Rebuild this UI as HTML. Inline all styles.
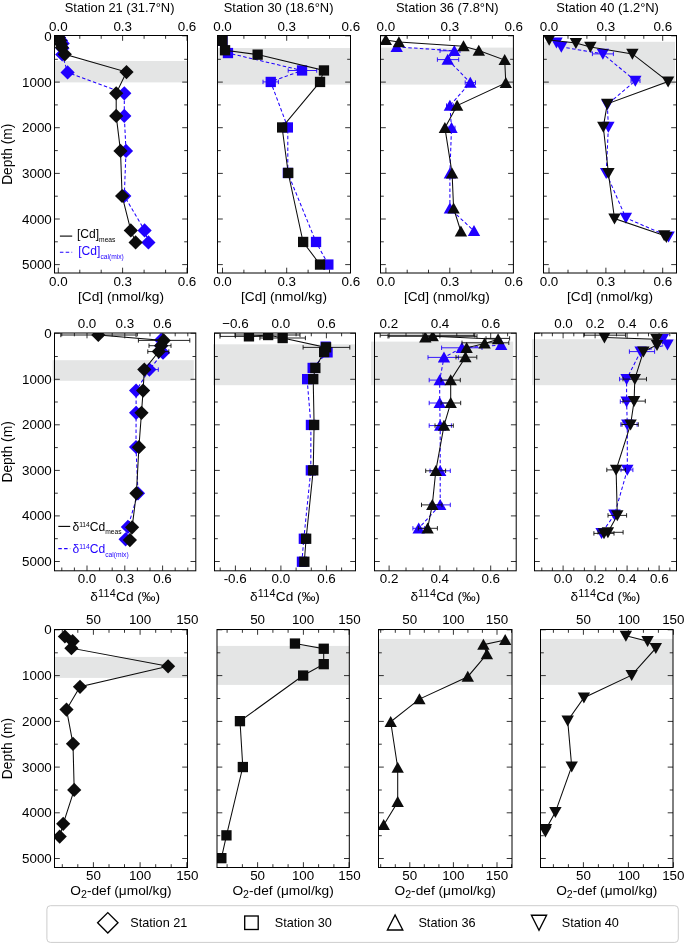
<!DOCTYPE html>
<html><head><meta charset="utf-8"><title>Cd profiles</title>
<style>
html,body{margin:0;padding:0;background:#fff;}
svg{display:block;will-change:transform;}
text{font-family:"Liberation Sans", sans-serif;fill:#000;}
.tk{font-size:13.4px;}
.ax{font-size:13.7px;}
.tt{font-size:12.9px;}
.dp{font-size:13.8px;}
.lg{font-size:12.1px;}
.bl{font-size:12.7px;}
</style></head><body>
<svg width="685" height="944" viewBox="0 0 685 944">
<rect x="0" y="0" width="685" height="944" fill="#fff"/>
<rect x="54.5" y="61.0" width="133.0" height="21.4" fill="#e4e5e5"/>
<clipPath id="c1"><rect x="54.5" y="35.5" width="133.0" height="237.5"/></clipPath>
<g clip-path="url(#c1)">
<path d="M59.0 37.5L61.0 40.5L62.7 43.4L62.4 48.3L62.2 54.5L67.6 72.4L124.3 93.3L124.3 115.9L126.0 150.9L124.3 196.0L144.6 230.4L148.4 242.4" stroke="#2000ff" stroke-width="1.05" fill="none" stroke-dasharray="3.5 2.3"/>
<path d="M51.9 37.5L59.0 30.4L66.1 37.5L59.0 44.6Z" fill="#2000ff"/>
<path d="M53.9 40.5L61.0 33.4L68.1 40.5L61.0 47.6Z" fill="#2000ff"/>
<path d="M55.6 43.4L62.7 36.3L69.8 43.4L62.7 50.5Z" fill="#2000ff"/>
<path d="M55.3 48.3L62.4 41.2L69.5 48.3L62.4 55.4Z" fill="#2000ff"/>
<path d="M55.1 54.5L62.2 47.4L69.3 54.5L62.2 61.6Z" fill="#2000ff"/>
<path d="M60.5 72.4L67.6 65.3L74.7 72.4L67.6 79.5Z" fill="#2000ff"/>
<path d="M117.2 93.3L124.3 86.2L131.4 93.3L124.3 100.4Z" fill="#2000ff"/>
<path d="M117.2 115.9L124.3 108.8L131.4 115.9L124.3 123.0Z" fill="#2000ff"/>
<path d="M118.9 150.9L126.0 143.8L133.1 150.9L126.0 158.0Z" fill="#2000ff"/>
<path d="M117.2 196.0L124.3 188.9L131.4 196.0L124.3 203.1Z" fill="#2000ff"/>
<path d="M137.5 230.4L144.6 223.3L151.7 230.4L144.6 237.5Z" fill="#2000ff"/>
<path d="M141.3 242.4L148.4 235.3L155.5 242.4L148.4 249.5Z" fill="#2000ff"/>
<path d="M58.7 37.4L60.0 40.5L61.0 44.0L61.9 47.6L64.8 54.3L126.5 72.1L116.2 93.3L116.2 115.9L120.5 150.9L122.1 196.0L130.8 230.4L135.6 242.4" stroke="#0c0c0c" stroke-width="1.05" fill="none"/>
<path d="M51.6 37.4L58.7 30.3L65.8 37.4L58.7 44.5Z" fill="#0c0c0c"/>
<path d="M52.9 40.5L60.0 33.4L67.1 40.5L60.0 47.6Z" fill="#0c0c0c"/>
<path d="M53.9 44.0L61.0 36.9L68.1 44.0L61.0 51.1Z" fill="#0c0c0c"/>
<path d="M54.8 47.6L61.9 40.5L69.0 47.6L61.9 54.7Z" fill="#0c0c0c"/>
<path d="M57.7 54.3L64.8 47.2L71.9 54.3L64.8 61.4Z" fill="#0c0c0c"/>
<path d="M119.4 72.1L126.5 65.0L133.6 72.1L126.5 79.2Z" fill="#0c0c0c"/>
<path d="M109.1 93.3L116.2 86.2L123.3 93.3L116.2 100.4Z" fill="#0c0c0c"/>
<path d="M109.1 115.9L116.2 108.8L123.3 115.9L116.2 123.0Z" fill="#0c0c0c"/>
<path d="M113.4 150.9L120.5 143.8L127.6 150.9L120.5 158.0Z" fill="#0c0c0c"/>
<path d="M115.0 196.0L122.1 188.9L129.2 196.0L122.1 203.1Z" fill="#0c0c0c"/>
<path d="M123.7 230.4L130.8 223.3L137.9 230.4L130.8 237.5Z" fill="#0c0c0c"/>
<path d="M128.5 242.4L135.6 235.3L142.7 242.4L135.6 249.5Z" fill="#0c0c0c"/>
</g>
<path d="M54.5 35.8h5.3M187.5 35.8h-5.3M54.5 59.3h3.3M187.5 59.3h-3.3M54.5 82.1h5.3M187.5 82.1h-5.3M54.5 104.9h3.3M187.5 104.9h-3.3M54.5 127.7h5.3M187.5 127.7h-5.3M54.5 150.6h3.3M187.5 150.6h-3.3M54.5 173.4h5.3M187.5 173.4h-5.3M54.5 196.2h3.3M187.5 196.2h-3.3M54.5 219.0h5.3M187.5 219.0h-5.3M54.5 241.8h3.3M187.5 241.8h-3.3M54.5 264.6h5.3M187.5 264.6h-5.3M58.3 35.5v5.3M58.3 273.0v-5.3M79.8 35.5v3.3M79.8 273.0v-3.3M101.2 35.5v3.3M101.2 273.0v-3.3M122.6 35.5v5.3M122.6 273.0v-5.3M144.1 35.5v3.3M144.1 273.0v-3.3M165.6 35.5v3.3M165.6 273.0v-3.3M187.0 35.5v5.3M187.0 273.0v-5.3" stroke="#111" stroke-width="0.85" fill="none"/>
<rect x="54.5" y="35.5" width="133.0" height="237.5" fill="none" stroke="#000" stroke-width="1.0"/>
<text x="58.3" y="30.8" text-anchor="middle" class="tk">0.0</text>
<text x="122.7" y="30.8" text-anchor="middle" class="tk">0.3</text>
<text x="187.0" y="30.8" text-anchor="middle" class="tk">0.6</text>
<text x="58.3" y="286.0" text-anchor="middle" class="tk">0.0</text>
<text x="122.7" y="286.0" text-anchor="middle" class="tk">0.3</text>
<text x="187.0" y="286.0" text-anchor="middle" class="tk">0.6</text>
<text x="51.8" y="41.0" text-anchor="end" class="tk">0</text>
<text x="51.8" y="86.6" text-anchor="end" class="tk">1000</text>
<text x="51.8" y="132.2" text-anchor="end" class="tk">2000</text>
<text x="51.8" y="177.9" text-anchor="end" class="tk">3000</text>
<text x="51.8" y="223.5" text-anchor="end" class="tk">4000</text>
<text x="51.8" y="269.1" text-anchor="end" class="tk">5000</text>
<text transform="translate(12.0 154.2) rotate(-90)" text-anchor="middle" class="dp">Depth (m)</text>
<text x="121.0" y="301.3" text-anchor="middle" class="ax">[Cd] (nmol/kg)</text>
<text x="119.6" y="11.6" text-anchor="middle" class="tt">Station 21 (31.7&#176;N)</text>
<rect x="217.5" y="48.0" width="133.0" height="36.6" fill="#e4e5e5"/>
<clipPath id="c2"><rect x="217.5" y="35.5" width="133.0" height="237.5"/></clipPath>
<g clip-path="url(#c2)">
<path d="M222.5 40.8L228.0 53.0L302.0 70.5L270.7 81.9L287.8 127.5L287.8 173.0L316.0 242.0L328.3 264.5" stroke="#2000ff" stroke-width="1.05" fill="none" stroke-dasharray="3.5 2.3"/>
<path d="M288.2 70.5H316.7M288.2 68.3V72.7M316.7 68.3V72.7" stroke="#2000ff" stroke-width="0.9" fill="none"/>
<path d="M263.0 81.9H278.4M263.0 79.7V84.1M278.4 79.7V84.1" stroke="#2000ff" stroke-width="0.9" fill="none"/>
<rect x="217.3" y="35.6" width="10.3" height="10.3" fill="#2000ff"/>
<rect x="222.8" y="47.9" width="10.3" height="10.3" fill="#2000ff"/>
<rect x="296.9" y="65.3" width="10.3" height="10.3" fill="#2000ff"/>
<rect x="265.6" y="76.8" width="10.3" height="10.3" fill="#2000ff"/>
<rect x="282.7" y="122.3" width="10.3" height="10.3" fill="#2000ff"/>
<rect x="282.7" y="167.8" width="10.3" height="10.3" fill="#2000ff"/>
<rect x="310.9" y="236.8" width="10.3" height="10.3" fill="#2000ff"/>
<rect x="323.2" y="259.4" width="10.3" height="10.3" fill="#2000ff"/>
<path d="M222.5 40.8L225.1 50.2L257.6 54.6L323.9 70.5L320.0 81.9L282.1 127.5L288.2 173.0L303.1 242.0L320.0 264.5" stroke="#0c0c0c" stroke-width="1.05" fill="none"/>
<rect x="217.3" y="35.6" width="10.3" height="10.3" fill="#0c0c0c"/>
<rect x="219.9" y="45.1" width="10.3" height="10.3" fill="#0c0c0c"/>
<rect x="252.5" y="49.5" width="10.3" height="10.3" fill="#0c0c0c"/>
<rect x="318.8" y="65.3" width="10.3" height="10.3" fill="#0c0c0c"/>
<rect x="314.9" y="76.8" width="10.3" height="10.3" fill="#0c0c0c"/>
<rect x="277.0" y="122.3" width="10.3" height="10.3" fill="#0c0c0c"/>
<rect x="283.1" y="167.8" width="10.3" height="10.3" fill="#0c0c0c"/>
<rect x="298.0" y="236.8" width="10.3" height="10.3" fill="#0c0c0c"/>
<rect x="314.9" y="259.4" width="10.3" height="10.3" fill="#0c0c0c"/>
</g>
<path d="M217.5 35.8h5.3M350.5 35.8h-5.3M217.5 59.3h3.3M350.5 59.3h-3.3M217.5 82.1h5.3M350.5 82.1h-5.3M217.5 104.9h3.3M350.5 104.9h-3.3M217.5 127.7h5.3M350.5 127.7h-5.3M217.5 150.6h3.3M350.5 150.6h-3.3M217.5 173.4h5.3M350.5 173.4h-5.3M217.5 196.2h3.3M350.5 196.2h-3.3M217.5 219.0h5.3M350.5 219.0h-5.3M217.5 241.8h3.3M350.5 241.8h-3.3M217.5 264.6h5.3M350.5 264.6h-5.3M222.5 35.5v5.3M222.5 273.0v-5.3M243.9 35.5v3.3M243.9 273.0v-3.3M265.3 35.5v3.3M265.3 273.0v-3.3M286.7 35.5v5.3M286.7 273.0v-5.3M308.1 35.5v3.3M308.1 273.0v-3.3M329.5 35.5v3.3M329.5 273.0v-3.3" stroke="#111" stroke-width="0.85" fill="none"/>
<rect x="217.5" y="35.5" width="133.0" height="237.5" fill="none" stroke="#000" stroke-width="1.0"/>
<text x="222.5" y="30.8" text-anchor="middle" class="tk">0.0</text>
<text x="286.7" y="30.8" text-anchor="middle" class="tk">0.3</text>
<text x="350.9" y="30.8" text-anchor="middle" class="tk">0.6</text>
<text x="222.5" y="286.0" text-anchor="middle" class="tk">0.0</text>
<text x="286.7" y="286.0" text-anchor="middle" class="tk">0.3</text>
<text x="350.9" y="286.0" text-anchor="middle" class="tk">0.6</text>
<text x="284.0" y="301.3" text-anchor="middle" class="ax">[Cd] (nmol/kg)</text>
<text x="278.6" y="11.6" text-anchor="middle" class="tt">Station 30 (18.6&#176;N)</text>
<rect x="380.5" y="47.6" width="132.9" height="37.0" fill="#e4e5e5"/>
<clipPath id="c3"><rect x="380.5" y="35.5" width="132.9" height="237.5"/></clipPath>
<g clip-path="url(#c3)">
<path d="M396.7 46.9L454.3 50.8L447.7 59.6L470.3 82.6L449.9 105.6L451.5 127.9L449.9 173.4L449.9 208.5L474.0 231.0" stroke="#2000ff" stroke-width="1.05" fill="none" stroke-dasharray="3.5 2.3"/>
<path d="M440.0 50.8H460.0M440.0 48.6V53.0M460.0 48.6V53.0" stroke="#2000ff" stroke-width="0.9" fill="none"/>
<path d="M437.4 59.6H458.7M437.4 57.4V61.8M458.7 57.4V61.8" stroke="#2000ff" stroke-width="0.9" fill="none"/>
<path d="M465.2 82.6H475.5M465.2 80.4V84.8M475.5 80.4V84.8" stroke="#2000ff" stroke-width="0.9" fill="none"/>
<path d="M446.5 105.6H453.5M446.5 103.4V107.8M453.5 103.4V107.8" stroke="#2000ff" stroke-width="0.9" fill="none"/>
<path d="M448.0 127.9H455.0M448.0 125.7V130.1M455.0 125.7V130.1" stroke="#2000ff" stroke-width="0.9" fill="none"/>
<path d="M390.5 52.0L396.7 41.0L402.9 52.0Z" fill="#2000ff"/>
<path d="M448.1 55.9L454.3 44.9L460.5 55.9Z" fill="#2000ff"/>
<path d="M441.5 64.7L447.7 53.7L453.9 64.7Z" fill="#2000ff"/>
<path d="M464.1 87.7L470.3 76.7L476.5 87.7Z" fill="#2000ff"/>
<path d="M443.7 110.7L449.9 99.7L456.1 110.7Z" fill="#2000ff"/>
<path d="M445.3 133.0L451.5 122.0L457.7 133.0Z" fill="#2000ff"/>
<path d="M443.7 178.5L449.9 167.5L456.1 178.5Z" fill="#2000ff"/>
<path d="M443.7 213.6L449.9 202.6L456.1 213.6Z" fill="#2000ff"/>
<path d="M467.8 236.1L474.0 225.1L480.2 236.1Z" fill="#2000ff"/>
<path d="M385.8 39.9L398.9 42.1L463.5 46.2L478.8 50.6L504.7 60.0L505.8 83.0L457.1 105.6L444.9 127.9L452.1 173.4L453.6 208.5L460.9 231.5" stroke="#0c0c0c" stroke-width="1.05" fill="none"/>
<path d="M379.6 45.0L385.8 34.0L392.0 45.0Z" fill="#0c0c0c"/>
<path d="M392.7 47.2L398.9 36.2L405.1 47.2Z" fill="#0c0c0c"/>
<path d="M457.3 51.3L463.5 40.3L469.7 51.3Z" fill="#0c0c0c"/>
<path d="M472.6 55.7L478.8 44.7L485.0 55.7Z" fill="#0c0c0c"/>
<path d="M498.5 65.1L504.7 54.1L510.9 65.1Z" fill="#0c0c0c"/>
<path d="M499.6 88.1L505.8 77.1L512.0 88.1Z" fill="#0c0c0c"/>
<path d="M450.9 110.7L457.1 99.7L463.3 110.7Z" fill="#0c0c0c"/>
<path d="M438.7 133.0L444.9 122.0L451.1 133.0Z" fill="#0c0c0c"/>
<path d="M445.9 178.5L452.1 167.5L458.3 178.5Z" fill="#0c0c0c"/>
<path d="M447.4 213.6L453.6 202.6L459.8 213.6Z" fill="#0c0c0c"/>
<path d="M454.7 236.6L460.9 225.6L467.1 236.6Z" fill="#0c0c0c"/>
</g>
<path d="M380.5 35.8h5.3M513.4 35.8h-5.3M380.5 59.3h3.3M513.4 59.3h-3.3M380.5 82.1h5.3M513.4 82.1h-5.3M380.5 104.9h3.3M513.4 104.9h-3.3M380.5 127.7h5.3M513.4 127.7h-5.3M380.5 150.6h3.3M513.4 150.6h-3.3M380.5 173.4h5.3M513.4 173.4h-5.3M380.5 196.2h3.3M513.4 196.2h-3.3M380.5 219.0h5.3M513.4 219.0h-5.3M380.5 241.8h3.3M513.4 241.8h-3.3M380.5 264.6h5.3M513.4 264.6h-5.3M385.9 35.5v5.3M385.9 273.0v-5.3M407.2 35.5v3.3M407.2 273.0v-3.3M428.5 35.5v3.3M428.5 273.0v-3.3M449.8 35.5v5.3M449.8 273.0v-5.3M471.1 35.5v3.3M471.1 273.0v-3.3M492.4 35.5v3.3M492.4 273.0v-3.3" stroke="#111" stroke-width="0.85" fill="none"/>
<rect x="380.5" y="35.5" width="132.9" height="237.5" fill="none" stroke="#000" stroke-width="1.0"/>
<text x="385.9" y="30.8" text-anchor="middle" class="tk">0.0</text>
<text x="449.9" y="30.8" text-anchor="middle" class="tk">0.3</text>
<text x="513.7" y="30.8" text-anchor="middle" class="tk">0.6</text>
<text x="385.9" y="286.0" text-anchor="middle" class="tk">0.0</text>
<text x="449.9" y="286.0" text-anchor="middle" class="tk">0.3</text>
<text x="513.7" y="286.0" text-anchor="middle" class="tk">0.6</text>
<text x="446.9" y="301.3" text-anchor="middle" class="ax">[Cd] (nmol/kg)</text>
<text x="447.3" y="11.6" text-anchor="middle" class="tt">Station 36 (7.8&#176;N)</text>
<rect x="543.5" y="41.8" width="131.5" height="42.8" fill="#e4e5e5"/>
<clipPath id="c4"><rect x="543.5" y="35.5" width="133.0" height="237.5"/></clipPath>
<g clip-path="url(#c4)">
<path d="M556.5 42.5L561.3 46.9L602.9 53.9L635.3 80.8L607.3 104.5L608.4 126.8L606.2 173.0L625.9 217.9L668.6 236.5" stroke="#2000ff" stroke-width="1.05" fill="none" stroke-dasharray="3.5 2.3"/>
<path d="M592.4 53.9H613.4M592.4 51.7V56.1M613.4 51.7V56.1" stroke="#2000ff" stroke-width="0.9" fill="none"/>
<path d="M631.0 80.8H640.0M631.0 78.6V83.0M640.0 78.6V83.0" stroke="#2000ff" stroke-width="0.9" fill="none"/>
<path d="M550.3 37.4L556.5 48.4L562.7 37.4Z" fill="#2000ff"/>
<path d="M555.1 41.8L561.3 52.8L567.5 41.8Z" fill="#2000ff"/>
<path d="M596.7 48.8L602.9 59.8L609.1 48.8Z" fill="#2000ff"/>
<path d="M629.1 75.7L635.3 86.7L641.5 75.7Z" fill="#2000ff"/>
<path d="M601.1 99.4L607.3 110.4L613.5 99.4Z" fill="#2000ff"/>
<path d="M602.2 121.7L608.4 132.7L614.6 121.7Z" fill="#2000ff"/>
<path d="M600.0 167.9L606.2 178.9L612.4 167.9Z" fill="#2000ff"/>
<path d="M619.7 212.8L625.9 223.8L632.1 212.8Z" fill="#2000ff"/>
<path d="M662.4 231.4L668.6 242.4L674.8 231.4Z" fill="#2000ff"/>
<path d="M549.2 39.9L575.9 43.0L590.4 46.9L632.4 53.9L668.1 81.5L607.3 103.8L603.3 126.8L608.4 173.0L614.5 218.5L664.2 235.4L666.4 237.0" stroke="#0c0c0c" stroke-width="1.05" fill="none"/>
<path d="M543.0 34.8L549.2 45.8L555.4 34.8Z" fill="#0c0c0c"/>
<path d="M569.7 37.9L575.9 48.9L582.1 37.9Z" fill="#0c0c0c"/>
<path d="M584.2 41.8L590.4 52.8L596.6 41.8Z" fill="#0c0c0c"/>
<path d="M626.2 48.8L632.4 59.8L638.6 48.8Z" fill="#0c0c0c"/>
<path d="M661.9 76.4L668.1 87.4L674.3 76.4Z" fill="#0c0c0c"/>
<path d="M601.1 98.7L607.3 109.7L613.5 98.7Z" fill="#0c0c0c"/>
<path d="M597.1 121.7L603.3 132.7L609.5 121.7Z" fill="#0c0c0c"/>
<path d="M602.2 167.9L608.4 178.9L614.6 167.9Z" fill="#0c0c0c"/>
<path d="M608.3 213.4L614.5 224.4L620.7 213.4Z" fill="#0c0c0c"/>
<path d="M658.0 230.3L664.2 241.3L670.4 230.3Z" fill="#0c0c0c"/>
<path d="M660.2 231.9L666.4 242.9L672.6 231.9Z" fill="#0c0c0c"/>
</g>
<path d="M543.5 35.8h5.3M676.5 35.8h-5.3M543.5 59.3h3.3M676.5 59.3h-3.3M543.5 82.1h5.3M676.5 82.1h-5.3M543.5 104.9h3.3M676.5 104.9h-3.3M543.5 127.7h5.3M676.5 127.7h-5.3M543.5 150.6h3.3M676.5 150.6h-3.3M543.5 173.4h5.3M676.5 173.4h-5.3M543.5 196.2h3.3M676.5 196.2h-3.3M543.5 219.0h5.3M676.5 219.0h-5.3M543.5 241.8h3.3M676.5 241.8h-3.3M543.5 264.6h5.3M676.5 264.6h-5.3M549.0 35.5v5.3M549.0 273.0v-5.3M568.0 35.5v3.3M568.0 273.0v-3.3M586.9 35.5v3.3M586.9 273.0v-3.3M605.9 35.5v5.3M605.9 273.0v-5.3M624.8 35.5v3.3M624.8 273.0v-3.3M643.8 35.5v3.3M643.8 273.0v-3.3M662.7 35.5v5.3M662.7 273.0v-5.3" stroke="#111" stroke-width="0.85" fill="none"/>
<rect x="543.5" y="35.5" width="133.0" height="237.5" fill="none" stroke="#000" stroke-width="1.0"/>
<text x="549.0" y="30.8" text-anchor="middle" class="tk">0.0</text>
<text x="605.9" y="30.8" text-anchor="middle" class="tk">0.3</text>
<text x="662.8" y="30.8" text-anchor="middle" class="tk">0.6</text>
<text x="549.0" y="286.0" text-anchor="middle" class="tk">0.0</text>
<text x="605.9" y="286.0" text-anchor="middle" class="tk">0.3</text>
<text x="662.8" y="286.0" text-anchor="middle" class="tk">0.6</text>
<text x="610.0" y="301.3" text-anchor="middle" class="ax">[Cd] (nmol/kg)</text>
<text x="607.6" y="11.6" text-anchor="middle" class="tt">Station 40 (1.2&#176;N)</text>
<rect x="52.6" y="360.2" width="141.2" height="20.6" fill="#e4e5e5"/>
<clipPath id="c5"><rect x="54.5" y="333.0" width="141.3" height="237.8"/></clipPath>
<g clip-path="url(#c5)">
<path d="M161.1 339.9L161.1 345.7L163.0 352.7L149.4 369.6L136.1 390.6L136.1 412.8L136.0 447.0L138.0 493.3L127.9 526.9L125.6 539.3" stroke="#2000ff" stroke-width="1.05" fill="none" stroke-dasharray="3.5 2.3"/>
<path d="M140.0 369.6H158.3M140.0 367.4V371.8M158.3 367.4V371.8" stroke="#2000ff" stroke-width="0.9" fill="none"/>
<path d="M154.0 339.9L161.1 332.8L168.2 339.9L161.1 347.0Z" fill="#2000ff"/>
<path d="M154.0 345.7L161.1 338.6L168.2 345.7L161.1 352.8Z" fill="#2000ff"/>
<path d="M155.9 352.7L163.0 345.6L170.1 352.7L163.0 359.8Z" fill="#2000ff"/>
<path d="M142.3 369.6L149.4 362.5L156.5 369.6L149.4 376.7Z" fill="#2000ff"/>
<path d="M129.0 390.6L136.1 383.5L143.2 390.6L136.1 397.7Z" fill="#2000ff"/>
<path d="M129.0 412.8L136.1 405.7L143.2 412.8L136.1 419.9Z" fill="#2000ff"/>
<path d="M128.9 447.0L136.0 439.9L143.1 447.0L136.0 454.1Z" fill="#2000ff"/>
<path d="M130.9 493.3L138.0 486.2L145.1 493.3L138.0 500.4Z" fill="#2000ff"/>
<path d="M120.8 526.9L127.9 519.8L135.0 526.9L127.9 534.0Z" fill="#2000ff"/>
<path d="M118.5 539.3L125.6 532.2L132.7 539.3L125.6 546.4Z" fill="#2000ff"/>
<path d="M98.3 335.0L163.7 340.4L161.1 345.7L158.8 351.6L144.3 369.6L143.1 390.6L141.5 412.8L138.9 447.2L136.4 493.3L132.1 527.3L129.9 540.1" stroke="#0c0c0c" stroke-width="1.05" fill="none"/>
<path d="M60.8 335.0H136.1M60.8 332.8V337.2M136.1 332.8V337.2" stroke="#0c0c0c" stroke-width="0.9" fill="none"/>
<path d="M138.4 340.4H189.8M138.4 338.2V342.6M189.8 338.2V342.6" stroke="#0c0c0c" stroke-width="0.9" fill="none"/>
<path d="M149.0 345.7H171.0M149.0 343.5V347.9M171.0 343.5V347.9" stroke="#0c0c0c" stroke-width="0.9" fill="none"/>
<path d="M147.8 351.6H168.8M147.8 349.4V353.8M168.8 349.4V353.8" stroke="#0c0c0c" stroke-width="0.9" fill="none"/>
<path d="M91.2 335.0L98.3 327.9L105.4 335.0L98.3 342.1Z" fill="#0c0c0c"/>
<path d="M156.6 340.4L163.7 333.3L170.8 340.4L163.7 347.5Z" fill="#0c0c0c"/>
<path d="M154.0 345.7L161.1 338.6L168.2 345.7L161.1 352.8Z" fill="#0c0c0c"/>
<path d="M151.7 351.6L158.8 344.5L165.9 351.6L158.8 358.7Z" fill="#0c0c0c"/>
<path d="M137.2 369.6L144.3 362.5L151.4 369.6L144.3 376.7Z" fill="#0c0c0c"/>
<path d="M136.0 390.6L143.1 383.5L150.2 390.6L143.1 397.7Z" fill="#0c0c0c"/>
<path d="M134.4 412.8L141.5 405.7L148.6 412.8L141.5 419.9Z" fill="#0c0c0c"/>
<path d="M131.8 447.2L138.9 440.1L146.0 447.2L138.9 454.3Z" fill="#0c0c0c"/>
<path d="M129.3 493.3L136.4 486.2L143.5 493.3L136.4 500.4Z" fill="#0c0c0c"/>
<path d="M125.0 527.3L132.1 520.2L139.2 527.3L132.1 534.4Z" fill="#0c0c0c"/>
<path d="M122.8 540.1L129.9 533.0L137.0 540.1L129.9 547.2Z" fill="#0c0c0c"/>
</g>
<path d="M54.5 333.3h5.3M195.8 333.3h-5.3M54.5 356.5h3.3M195.8 356.5h-3.3M54.5 379.3h5.3M195.8 379.3h-5.3M54.5 402.0h3.3M195.8 402.0h-3.3M54.5 424.8h5.3M195.8 424.8h-5.3M54.5 447.6h3.3M195.8 447.6h-3.3M54.5 470.4h5.3M195.8 470.4h-5.3M54.5 493.2h3.3M195.8 493.2h-3.3M54.5 515.9h5.3M195.8 515.9h-5.3M54.5 538.7h3.3M195.8 538.7h-3.3M54.5 561.5h5.3M195.8 561.5h-5.3M61.8 333.0v3.3M61.8 570.8v-3.3M74.4 333.0v3.3M74.4 570.8v-3.3M87.0 333.0v5.3M87.0 570.8v-5.3M99.6 333.0v3.3M99.6 570.8v-3.3M112.2 333.0v3.3M112.2 570.8v-3.3M124.8 333.0v5.3M124.8 570.8v-5.3M137.4 333.0v3.3M137.4 570.8v-3.3M150.0 333.0v3.3M150.0 570.8v-3.3M162.6 333.0v5.3M162.6 570.8v-5.3M175.2 333.0v3.3M175.2 570.8v-3.3M187.8 333.0v3.3M187.8 570.8v-3.3" stroke="#111" stroke-width="0.85" fill="none"/>
<rect x="54.5" y="333.0" width="141.3" height="237.8" fill="none" stroke="#000" stroke-width="1.0"/>
<text x="87.0" y="327.6" text-anchor="middle" class="tk">0.0</text>
<text x="124.9" y="327.6" text-anchor="middle" class="tk">0.3</text>
<text x="162.5" y="327.6" text-anchor="middle" class="tk">0.6</text>
<text x="87.0" y="583.2" text-anchor="middle" class="tk">0.0</text>
<text x="124.9" y="583.2" text-anchor="middle" class="tk">0.3</text>
<text x="162.5" y="583.2" text-anchor="middle" class="tk">0.6</text>
<text x="51.8" y="338.2" text-anchor="end" class="tk">0</text>
<text x="51.8" y="383.8" text-anchor="end" class="tk">1000</text>
<text x="51.8" y="429.3" text-anchor="end" class="tk">2000</text>
<text x="51.8" y="474.9" text-anchor="end" class="tk">3000</text>
<text x="51.8" y="520.4" text-anchor="end" class="tk">4000</text>
<text x="51.8" y="566.0" text-anchor="end" class="tk">5000</text>
<text transform="translate(12.0 451.9) rotate(-90)" text-anchor="middle" class="dp">Depth (m)</text>
<text x="125.2" y="601.2" text-anchor="middle" class="ax">&#948;<tspan dy="-4.2" font-size="10.8" letter-spacing="0.3">114</tspan><tspan dy="4.2">Cd (&#8240;)</tspan></text>
<rect x="213.0" y="344.3" width="142.5" height="40.9" fill="#e4e5e5"/>
<clipPath id="c6"><rect x="214.5" y="333.0" width="141.0" height="237.8"/></clipPath>
<g clip-path="url(#c6)">
<path d="M325.6 346.6L327.5 352.4L312.6 367.9L307.1 379.1L310.9 424.9L310.8 470.4L303.8 538.8L301.9 561.7" stroke="#2000ff" stroke-width="1.05" fill="none" stroke-dasharray="3.5 2.3"/>
<rect x="320.5" y="341.5" width="10.3" height="10.3" fill="#2000ff"/>
<rect x="322.4" y="347.2" width="10.3" height="10.3" fill="#2000ff"/>
<rect x="307.5" y="362.8" width="10.3" height="10.3" fill="#2000ff"/>
<rect x="302.0" y="374.0" width="10.3" height="10.3" fill="#2000ff"/>
<rect x="305.8" y="419.8" width="10.3" height="10.3" fill="#2000ff"/>
<rect x="305.7" y="465.2" width="10.3" height="10.3" fill="#2000ff"/>
<rect x="298.7" y="533.6" width="10.3" height="10.3" fill="#2000ff"/>
<rect x="296.8" y="556.6" width="10.3" height="10.3" fill="#2000ff"/>
<path d="M248.9 336.4L268.1 335.0L282.6 338.0L326.0 347.4L324.1 352.0L315.3 367.9L313.2 379.1L314.1 424.9L313.2 470.4L306.1 538.8L304.3 561.7" stroke="#0c0c0c" stroke-width="1.05" fill="none"/>
<path d="M220.0 336.4H270.0M220.0 334.2V338.6M270.0 334.2V338.6" stroke="#0c0c0c" stroke-width="0.9" fill="none"/>
<path d="M235.0 335.0H300.0M235.0 332.8V337.2M300.0 332.8V337.2" stroke="#0c0c0c" stroke-width="0.9" fill="none"/>
<path d="M259.9 338.0H305.4M259.9 335.8V340.2M305.4 335.8V340.2" stroke="#0c0c0c" stroke-width="0.9" fill="none"/>
<path d="M303.1 347.4H349.8M303.1 345.2V349.6M349.8 345.2V349.6" stroke="#0c0c0c" stroke-width="0.9" fill="none"/>
<rect x="243.8" y="331.2" width="10.3" height="10.3" fill="#0c0c0c"/>
<rect x="263.0" y="329.9" width="10.3" height="10.3" fill="#0c0c0c"/>
<rect x="277.5" y="332.9" width="10.3" height="10.3" fill="#0c0c0c"/>
<rect x="320.9" y="342.2" width="10.3" height="10.3" fill="#0c0c0c"/>
<rect x="319.0" y="346.9" width="10.3" height="10.3" fill="#0c0c0c"/>
<rect x="310.2" y="362.8" width="10.3" height="10.3" fill="#0c0c0c"/>
<rect x="308.1" y="374.0" width="10.3" height="10.3" fill="#0c0c0c"/>
<rect x="309.0" y="419.8" width="10.3" height="10.3" fill="#0c0c0c"/>
<rect x="308.1" y="465.2" width="10.3" height="10.3" fill="#0c0c0c"/>
<rect x="301.0" y="533.6" width="10.3" height="10.3" fill="#0c0c0c"/>
<rect x="299.2" y="556.6" width="10.3" height="10.3" fill="#0c0c0c"/>
</g>
<path d="M214.5 333.3h5.3M355.5 333.3h-5.3M214.5 356.5h3.3M355.5 356.5h-3.3M214.5 379.3h5.3M355.5 379.3h-5.3M214.5 402.0h3.3M355.5 402.0h-3.3M214.5 424.8h5.3M355.5 424.8h-5.3M214.5 447.6h3.3M355.5 447.6h-3.3M214.5 470.4h5.3M355.5 470.4h-5.3M214.5 493.2h3.3M355.5 493.2h-3.3M214.5 515.9h5.3M355.5 515.9h-5.3M214.5 538.7h3.3M355.5 538.7h-3.3M214.5 561.5h5.3M355.5 561.5h-5.3M220.2 333.0v3.3M220.2 570.8v-3.3M235.4 333.0v5.3M235.4 570.8v-5.3M250.5 333.0v3.3M250.5 570.8v-3.3M265.7 333.0v3.3M265.7 570.8v-3.3M280.9 333.0v5.3M280.9 570.8v-5.3M296.1 333.0v3.3M296.1 570.8v-3.3M311.3 333.0v3.3M311.3 570.8v-3.3M326.4 333.0v5.3M326.4 570.8v-5.3M341.6 333.0v3.3M341.6 570.8v-3.3" stroke="#111" stroke-width="0.85" fill="none"/>
<rect x="214.5" y="333.0" width="141.0" height="237.8" fill="none" stroke="#000" stroke-width="1.0"/>
<text x="235.4" y="327.6" text-anchor="middle" class="tk">&#8722;0.6</text>
<text x="280.9" y="327.6" text-anchor="middle" class="tk">0.0</text>
<text x="326.5" y="327.6" text-anchor="middle" class="tk">0.6</text>
<text x="235.2" y="583.2" text-anchor="middle" class="tk">-0.6</text>
<text x="280.9" y="583.2" text-anchor="middle" class="tk">0.0</text>
<text x="326.5" y="583.2" text-anchor="middle" class="tk">0.6</text>
<text x="285.0" y="601.2" text-anchor="middle" class="ax">&#948;<tspan dy="-4.2" font-size="10.8" letter-spacing="0.3">114</tspan><tspan dy="4.2">Cd (&#8240;)</tspan></text>
<rect x="371.0" y="341.6" width="142.2" height="43.6" fill="#e4e5e5"/>
<clipPath id="c7"><rect x="374.5" y="333.0" width="141.7" height="237.8"/></clipPath>
<g clip-path="url(#c7)">
<path d="M501.2 345.0L461.9 347.8L444.0 357.4L439.7 380.1L439.7 403.0L440.2 425.6L440.2 470.8L440.2 504.9L418.7 528.3" stroke="#2000ff" stroke-width="1.05" fill="none" stroke-dasharray="3.5 2.3"/>
<path d="M441.6 347.8H482.0M441.6 345.6V350.0M482.0 345.6V350.0" stroke="#2000ff" stroke-width="0.9" fill="none"/>
<path d="M428.0 357.4H458.4M428.0 355.2V359.6M458.4 355.2V359.6" stroke="#2000ff" stroke-width="0.9" fill="none"/>
<path d="M429.2 380.1H450.3M429.2 377.9V382.3M450.3 377.9V382.3" stroke="#2000ff" stroke-width="0.9" fill="none"/>
<path d="M429.2 403.0H450.3M429.2 400.8V405.2M450.3 400.8V405.2" stroke="#2000ff" stroke-width="0.9" fill="none"/>
<path d="M429.2 425.6H451.4M429.2 423.4V427.8M451.4 423.4V427.8" stroke="#2000ff" stroke-width="0.9" fill="none"/>
<path d="M430.0 470.8H450.3M430.0 468.6V473.0M450.3 468.6V473.0" stroke="#2000ff" stroke-width="0.9" fill="none"/>
<path d="M430.0 504.9H450.3M430.0 502.7V507.1M450.3 502.7V507.1" stroke="#2000ff" stroke-width="0.9" fill="none"/>
<path d="M412.9 528.3H424.6M412.9 526.1V530.5M424.6 526.1V530.5" stroke="#2000ff" stroke-width="0.9" fill="none"/>
<path d="M495.0 350.1L501.2 339.1L507.4 350.1Z" fill="#2000ff"/>
<path d="M455.7 352.9L461.9 341.9L468.1 352.9Z" fill="#2000ff"/>
<path d="M437.8 362.5L444.0 351.5L450.2 362.5Z" fill="#2000ff"/>
<path d="M433.5 385.2L439.7 374.2L445.9 385.2Z" fill="#2000ff"/>
<path d="M433.5 408.1L439.7 397.1L445.9 408.1Z" fill="#2000ff"/>
<path d="M434.0 430.7L440.2 419.7L446.4 430.7Z" fill="#2000ff"/>
<path d="M434.0 475.9L440.2 464.9L446.4 475.9Z" fill="#2000ff"/>
<path d="M434.0 510.0L440.2 499.0L446.4 510.0Z" fill="#2000ff"/>
<path d="M412.5 533.4L418.7 522.4L424.9 533.4Z" fill="#2000ff"/>
<path d="M425.3 337.3L432.7 336.2L498.1 339.2L484.6 343.4L466.6 347.8L465.4 357.2L450.7 380.1L450.7 403.0L444.0 425.6L435.8 470.8L432.3 504.9L427.6 528.3" stroke="#0c0c0c" stroke-width="1.05" fill="none"/>
<path d="M380.2 335.3H474.8M380.2 333.1V337.5M474.8 333.1V337.5" stroke="#0c0c0c" stroke-width="0.9" fill="none"/>
<path d="M388.0 336.3H477.0M388.0 334.1V338.5M477.0 334.1V338.5" stroke="#0c0c0c" stroke-width="0.9" fill="none"/>
<path d="M486.0 338.4H509.6M486.0 336.2V340.6M509.6 336.2V340.6" stroke="#0c0c0c" stroke-width="0.9" fill="none"/>
<path d="M462.0 342.8H508.8M462.0 340.6V345.0M508.8 340.6V345.0" stroke="#0c0c0c" stroke-width="0.9" fill="none"/>
<path d="M456.0 357.2H476.8M456.0 355.0V359.4M476.8 355.0V359.4" stroke="#0c0c0c" stroke-width="0.9" fill="none"/>
<path d="M441.0 380.1H460.3M441.0 377.9V382.3M460.3 377.9V382.3" stroke="#0c0c0c" stroke-width="0.9" fill="none"/>
<path d="M441.0 403.0H460.7M441.0 400.8V405.2M460.7 400.8V405.2" stroke="#0c0c0c" stroke-width="0.9" fill="none"/>
<path d="M435.0 425.6H453.3M435.0 423.4V427.8M453.3 423.4V427.8" stroke="#0c0c0c" stroke-width="0.9" fill="none"/>
<path d="M425.7 470.8H445.6M425.7 468.6V473.0M445.6 468.6V473.0" stroke="#0c0c0c" stroke-width="0.9" fill="none"/>
<path d="M421.5 504.9H442.0M421.5 502.7V507.1M442.0 502.7V507.1" stroke="#0c0c0c" stroke-width="0.9" fill="none"/>
<path d="M418.3 528.3H437.4M418.3 526.1V530.5M437.4 526.1V530.5" stroke="#0c0c0c" stroke-width="0.9" fill="none"/>
<path d="M419.1 342.4L425.3 331.4L431.5 342.4Z" fill="#0c0c0c"/>
<path d="M426.5 341.3L432.7 330.3L438.9 341.3Z" fill="#0c0c0c"/>
<path d="M491.9 344.3L498.1 333.3L504.3 344.3Z" fill="#0c0c0c"/>
<path d="M478.4 348.5L484.6 337.5L490.8 348.5Z" fill="#0c0c0c"/>
<path d="M460.4 352.9L466.6 341.9L472.8 352.9Z" fill="#0c0c0c"/>
<path d="M459.2 362.3L465.4 351.3L471.6 362.3Z" fill="#0c0c0c"/>
<path d="M444.5 385.2L450.7 374.2L456.9 385.2Z" fill="#0c0c0c"/>
<path d="M444.5 408.1L450.7 397.1L456.9 408.1Z" fill="#0c0c0c"/>
<path d="M437.8 430.7L444.0 419.7L450.2 430.7Z" fill="#0c0c0c"/>
<path d="M429.6 475.9L435.8 464.9L442.0 475.9Z" fill="#0c0c0c"/>
<path d="M426.1 510.0L432.3 499.0L438.5 510.0Z" fill="#0c0c0c"/>
<path d="M421.4 533.4L427.6 522.4L433.8 533.4Z" fill="#0c0c0c"/>
</g>
<path d="M374.5 333.3h5.3M516.2 333.3h-5.3M374.5 356.5h3.3M516.2 356.5h-3.3M374.5 379.3h5.3M516.2 379.3h-5.3M374.5 402.0h3.3M516.2 402.0h-3.3M374.5 424.8h5.3M516.2 424.8h-5.3M374.5 447.6h3.3M516.2 447.6h-3.3M374.5 470.4h5.3M516.2 470.4h-5.3M374.5 493.2h3.3M516.2 493.2h-3.3M374.5 515.9h5.3M516.2 515.9h-5.3M374.5 538.7h3.3M516.2 538.7h-3.3M374.5 561.5h5.3M516.2 561.5h-5.3M389.1 333.0v5.3M389.1 570.8v-5.3M406.0 333.0v3.3M406.0 570.8v-3.3M423.0 333.0v3.3M423.0 570.8v-3.3M439.9 333.0v5.3M439.9 570.8v-5.3M456.8 333.0v3.3M456.8 570.8v-3.3M473.8 333.0v3.3M473.8 570.8v-3.3M490.7 333.0v5.3M490.7 570.8v-5.3M507.6 333.0v3.3M507.6 570.8v-3.3" stroke="#111" stroke-width="0.85" fill="none"/>
<rect x="374.5" y="333.0" width="141.7" height="237.8" fill="none" stroke="#000" stroke-width="1.0"/>
<text x="388.9" y="327.6" text-anchor="middle" class="tk">0.2</text>
<text x="440.0" y="327.6" text-anchor="middle" class="tk">0.4</text>
<text x="490.9" y="327.6" text-anchor="middle" class="tk">0.6</text>
<text x="389.1" y="583.2" text-anchor="middle" class="tk">0.2</text>
<text x="439.7" y="583.2" text-anchor="middle" class="tk">0.4</text>
<text x="490.7" y="583.2" text-anchor="middle" class="tk">0.6</text>
<text x="445.4" y="601.2" text-anchor="middle" class="ax">&#948;<tspan dy="-4.2" font-size="10.8" letter-spacing="0.3">114</tspan><tspan dy="4.2">Cd (&#8240;)</tspan></text>
<rect x="532.0" y="339.2" width="144.5" height="46.0" fill="#e4e5e5"/>
<clipPath id="c8"><rect x="534.5" y="333.0" width="142.0" height="237.8"/></clipPath>
<g clip-path="url(#c8)">
<path d="M662.8 339.2L667.5 344.6L640.6 351.6L626.6 379.1L626.6 401.6L627.3 424.5L627.3 469.9L614.5 514.7L601.6 533.0" stroke="#2000ff" stroke-width="1.05" fill="none" stroke-dasharray="3.5 2.3"/>
<path d="M629.4 351.6H654.6M629.4 349.4V353.8M654.6 349.4V353.8" stroke="#2000ff" stroke-width="0.9" fill="none"/>
<path d="M619.6 379.1H633.6M619.6 376.9V381.3M633.6 376.9V381.3" stroke="#2000ff" stroke-width="0.9" fill="none"/>
<path d="M620.3 401.6H633.0M620.3 399.4V403.8M633.0 399.4V403.8" stroke="#2000ff" stroke-width="0.9" fill="none"/>
<path d="M620.8 424.5H637.1M620.8 422.3V426.7M637.1 422.3V426.7" stroke="#2000ff" stroke-width="0.9" fill="none"/>
<path d="M621.0 469.9H632.9M621.0 467.7V472.1M632.9 467.7V472.1" stroke="#2000ff" stroke-width="0.9" fill="none"/>
<path d="M656.6 334.1L662.8 345.1L669.0 334.1Z" fill="#2000ff"/>
<path d="M661.3 339.5L667.5 350.5L673.7 339.5Z" fill="#2000ff"/>
<path d="M634.4 346.5L640.6 357.5L646.8 346.5Z" fill="#2000ff"/>
<path d="M620.4 374.0L626.6 385.0L632.8 374.0Z" fill="#2000ff"/>
<path d="M620.4 396.5L626.6 407.5L632.8 396.5Z" fill="#2000ff"/>
<path d="M621.1 419.4L627.3 430.4L633.5 419.4Z" fill="#2000ff"/>
<path d="M621.1 464.8L627.3 475.8L633.5 464.8Z" fill="#2000ff"/>
<path d="M608.3 509.6L614.5 520.6L620.7 509.6Z" fill="#2000ff"/>
<path d="M595.4 527.9L601.6 538.9L607.8 527.9Z" fill="#2000ff"/>
<path d="M604.4 337.6L656.5 339.2L657.0 345.0L643.4 351.6L634.8 379.1L634.1 401.1L630.6 424.5L616.1 469.9L617.3 515.4L607.9 532.3L604.0 533.4" stroke="#0c0c0c" stroke-width="1.05" fill="none"/>
<path d="M583.8 335.2H625.6M583.8 333.0V337.4M625.6 333.0V337.4" stroke="#0c0c0c" stroke-width="0.9" fill="none"/>
<path d="M623.0 379.1H646.5M623.0 376.9V381.3M646.5 376.9V381.3" stroke="#0c0c0c" stroke-width="0.9" fill="none"/>
<path d="M623.0 401.1H645.3M623.0 398.9V403.3M645.3 398.9V403.3" stroke="#0c0c0c" stroke-width="0.9" fill="none"/>
<path d="M622.0 424.5H638.3M622.0 422.3V426.7M638.3 422.3V426.7" stroke="#0c0c0c" stroke-width="0.9" fill="none"/>
<path d="M606.8 469.9H625.5M606.8 467.7V472.1M625.5 467.7V472.1" stroke="#0c0c0c" stroke-width="0.9" fill="none"/>
<path d="M608.0 515.4H626.6M608.0 513.2V517.6M626.6 513.2V517.6" stroke="#0c0c0c" stroke-width="0.9" fill="none"/>
<path d="M598.0 532.3H623.1M598.0 530.1V534.5M623.1 530.1V534.5" stroke="#0c0c0c" stroke-width="0.9" fill="none"/>
<path d="M593.9 533.4H614.0M593.9 531.2V535.6M614.0 531.2V535.6" stroke="#0c0c0c" stroke-width="0.9" fill="none"/>
<path d="M598.2 332.5L604.4 343.5L610.6 332.5Z" fill="#0c0c0c"/>
<path d="M650.3 334.1L656.5 345.1L662.7 334.1Z" fill="#0c0c0c"/>
<path d="M650.8 339.9L657.0 350.9L663.2 339.9Z" fill="#0c0c0c"/>
<path d="M637.2 346.5L643.4 357.5L649.6 346.5Z" fill="#0c0c0c"/>
<path d="M628.6 374.0L634.8 385.0L641.0 374.0Z" fill="#0c0c0c"/>
<path d="M627.9 396.0L634.1 407.0L640.3 396.0Z" fill="#0c0c0c"/>
<path d="M624.4 419.4L630.6 430.4L636.8 419.4Z" fill="#0c0c0c"/>
<path d="M609.9 464.8L616.1 475.8L622.3 464.8Z" fill="#0c0c0c"/>
<path d="M611.1 510.3L617.3 521.3L623.5 510.3Z" fill="#0c0c0c"/>
<path d="M601.7 527.2L607.9 538.2L614.1 527.2Z" fill="#0c0c0c"/>
<path d="M597.8 528.3L604.0 539.3L610.2 528.3Z" fill="#0c0c0c"/>
</g>
<path d="M534.5 333.3h5.3M676.5 333.3h-5.3M534.5 356.5h3.3M676.5 356.5h-3.3M534.5 379.3h5.3M676.5 379.3h-5.3M534.5 402.0h3.3M676.5 402.0h-3.3M534.5 424.8h5.3M676.5 424.8h-5.3M534.5 447.6h3.3M676.5 447.6h-3.3M534.5 470.4h5.3M676.5 470.4h-5.3M534.5 493.2h3.3M676.5 493.2h-3.3M534.5 515.9h5.3M676.5 515.9h-5.3M534.5 538.7h3.3M676.5 538.7h-3.3M534.5 561.5h5.3M676.5 561.5h-5.3M541.8 333.0v3.3M541.8 570.8v-3.3M552.4 333.0v3.3M552.4 570.8v-3.3M563.1 333.0v5.3M563.1 570.8v-5.3M573.8 333.0v3.3M573.8 570.8v-3.3M584.4 333.0v3.3M584.4 570.8v-3.3M595.1 333.0v5.3M595.1 570.8v-5.3M605.8 333.0v3.3M605.8 570.8v-3.3M616.5 333.0v3.3M616.5 570.8v-3.3M627.1 333.0v5.3M627.1 570.8v-5.3M637.8 333.0v3.3M637.8 570.8v-3.3M648.5 333.0v3.3M648.5 570.8v-3.3M659.1 333.0v5.3M659.1 570.8v-5.3M669.8 333.0v3.3M669.8 570.8v-3.3" stroke="#111" stroke-width="0.85" fill="none"/>
<rect x="534.5" y="333.0" width="142.0" height="237.8" fill="none" stroke="#000" stroke-width="1.0"/>
<text x="563.5" y="327.6" text-anchor="middle" class="tk">0.0</text>
<text x="595.1" y="327.6" text-anchor="middle" class="tk">0.2</text>
<text x="627.1" y="327.6" text-anchor="middle" class="tk">0.4</text>
<text x="658.8" y="327.6" text-anchor="middle" class="tk">0.6</text>
<text x="563.1" y="583.2" text-anchor="middle" class="tk">0.0</text>
<text x="595.1" y="583.2" text-anchor="middle" class="tk">0.2</text>
<text x="627.1" y="583.2" text-anchor="middle" class="tk">0.4</text>
<text x="659.3" y="583.2" text-anchor="middle" class="tk">0.6</text>
<text x="605.5" y="601.2" text-anchor="middle" class="ax">&#948;<tspan dy="-4.2" font-size="10.8" letter-spacing="0.3">114</tspan><tspan dy="4.2">Cd (&#8240;)</tspan></text>
<rect x="54.5" y="656.9" width="133.0" height="21.0" fill="#e4e5e5"/>
<clipPath id="c9"><rect x="54.5" y="629.5" width="133.0" height="238.0"/></clipPath>
<g clip-path="url(#c9)">
<path d="M64.9 636.5L72.6 641.2L71.4 648.2L168.1 666.3L80.0 686.8L66.5 709.6L73.0 743.8L74.2 789.9L63.2 823.8L59.7 836.6" stroke="#0c0c0c" stroke-width="1.05" fill="none"/>
<path d="M57.8 636.5L64.9 629.4L72.0 636.5L64.9 643.6Z" fill="#0c0c0c"/>
<path d="M65.5 641.2L72.6 634.1L79.7 641.2L72.6 648.3Z" fill="#0c0c0c"/>
<path d="M64.3 648.2L71.4 641.1L78.5 648.2L71.4 655.3Z" fill="#0c0c0c"/>
<path d="M161.0 666.3L168.1 659.2L175.2 666.3L168.1 673.4Z" fill="#0c0c0c"/>
<path d="M72.9 686.8L80.0 679.7L87.1 686.8L80.0 693.9Z" fill="#0c0c0c"/>
<path d="M59.4 709.6L66.5 702.5L73.6 709.6L66.5 716.7Z" fill="#0c0c0c"/>
<path d="M65.9 743.8L73.0 736.7L80.1 743.8L73.0 750.9Z" fill="#0c0c0c"/>
<path d="M67.1 789.9L74.2 782.8L81.3 789.9L74.2 797.0Z" fill="#0c0c0c"/>
<path d="M56.1 823.8L63.2 816.7L70.3 823.8L63.2 830.9Z" fill="#0c0c0c"/>
<path d="M52.6 836.6L59.7 829.5L66.8 836.6L59.7 843.7Z" fill="#0c0c0c"/>
</g>
<path d="M54.5 629.8h5.3M187.5 629.8h-5.3M54.5 652.8h3.3M187.5 652.8h-3.3M54.5 675.6h5.3M187.5 675.6h-5.3M54.5 698.5h3.3M187.5 698.5h-3.3M54.5 721.4h5.3M187.5 721.4h-5.3M54.5 744.2h3.3M187.5 744.2h-3.3M54.5 767.1h5.3M187.5 767.1h-5.3M54.5 790.0h3.3M187.5 790.0h-3.3M54.5 812.8h5.3M187.5 812.8h-5.3M54.5 835.7h3.3M187.5 835.7h-3.3M54.5 858.5h5.3M187.5 858.5h-5.3M62.3 629.5v3.3M62.3 867.5v-3.3M77.8 629.5v3.3M77.8 867.5v-3.3M93.4 629.5v5.3M93.4 867.5v-5.3M109.0 629.5v3.3M109.0 867.5v-3.3M124.5 629.5v3.3M124.5 867.5v-3.3M140.1 629.5v5.3M140.1 867.5v-5.3M155.7 629.5v3.3M155.7 867.5v-3.3M171.2 629.5v3.3M171.2 867.5v-3.3M186.8 629.5v5.3M186.8 867.5v-5.3" stroke="#111" stroke-width="0.85" fill="none"/>
<rect x="54.5" y="629.5" width="133.0" height="238.0" fill="none" stroke="#000" stroke-width="1.0"/>
<text x="93.4" y="623.6" text-anchor="middle" class="tk">50</text>
<text x="140.1" y="623.6" text-anchor="middle" class="tk">100</text>
<text x="187.3" y="623.6" text-anchor="middle" class="tk">150</text>
<text x="93.4" y="879.5" text-anchor="middle" class="tk">50</text>
<text x="140.1" y="879.5" text-anchor="middle" class="tk">100</text>
<text x="187.3" y="879.5" text-anchor="middle" class="tk">150</text>
<text x="51.8" y="634.4" text-anchor="end" class="tk">0</text>
<text x="51.8" y="680.1" text-anchor="end" class="tk">1000</text>
<text x="51.8" y="725.9" text-anchor="end" class="tk">2000</text>
<text x="51.8" y="771.6" text-anchor="end" class="tk">3000</text>
<text x="51.8" y="817.3" text-anchor="end" class="tk">4000</text>
<text x="51.8" y="863.0" text-anchor="end" class="tk">5000</text>
<text transform="translate(12.0 748.5) rotate(-90)" text-anchor="middle" class="dp">Depth (m)</text>
<text x="121.0" y="895.3" text-anchor="middle" class="ax">O<tspan dy="2.7" font-size="10.6">2</tspan><tspan dy="-2.7">-def (&#956;mol/kg)</tspan></text>
<rect x="217.0" y="645.9" width="132.3" height="39.0" fill="#e4e5e5"/>
<clipPath id="c10"><rect x="217.0" y="629.5" width="132.3" height="238.0"/></clipPath>
<g clip-path="url(#c10)">
<path d="M294.9 643.5L323.7 648.7L323.7 664.1L303.1 675.5L240.0 721.1L242.8 767.0L226.5 835.4L221.4 858.1" stroke="#0c0c0c" stroke-width="1.05" fill="none"/>
<rect x="289.8" y="638.4" width="10.3" height="10.3" fill="#0c0c0c"/>
<rect x="318.6" y="643.6" width="10.3" height="10.3" fill="#0c0c0c"/>
<rect x="318.6" y="659.0" width="10.3" height="10.3" fill="#0c0c0c"/>
<rect x="298.0" y="670.4" width="10.3" height="10.3" fill="#0c0c0c"/>
<rect x="234.8" y="716.0" width="10.3" height="10.3" fill="#0c0c0c"/>
<rect x="237.7" y="761.9" width="10.3" height="10.3" fill="#0c0c0c"/>
<rect x="221.3" y="830.2" width="10.3" height="10.3" fill="#0c0c0c"/>
<rect x="216.2" y="853.0" width="10.3" height="10.3" fill="#0c0c0c"/>
</g>
<path d="M217.0 629.8h5.3M349.3 629.8h-5.3M217.0 652.8h3.3M349.3 652.8h-3.3M217.0 675.6h5.3M349.3 675.6h-5.3M217.0 698.5h3.3M349.3 698.5h-3.3M217.0 721.4h5.3M349.3 721.4h-5.3M217.0 744.2h3.3M349.3 744.2h-3.3M217.0 767.1h5.3M349.3 767.1h-5.3M217.0 790.0h3.3M349.3 790.0h-3.3M217.0 812.8h5.3M349.3 812.8h-5.3M217.0 835.7h3.3M349.3 835.7h-3.3M217.0 858.5h5.3M349.3 858.5h-5.3M227.1 629.5v3.3M227.1 867.5v-3.3M242.4 629.5v3.3M242.4 867.5v-3.3M257.6 629.5v5.3M257.6 867.5v-5.3M272.9 629.5v3.3M272.9 867.5v-3.3M288.1 629.5v3.3M288.1 867.5v-3.3M303.4 629.5v5.3M303.4 867.5v-5.3M318.6 629.5v3.3M318.6 867.5v-3.3M333.9 629.5v3.3M333.9 867.5v-3.3M349.1 629.5v5.3M349.1 867.5v-5.3" stroke="#111" stroke-width="0.85" fill="none"/>
<rect x="217.0" y="629.5" width="132.3" height="238.0" fill="none" stroke="#000" stroke-width="1.0"/>
<text x="257.6" y="623.6" text-anchor="middle" class="tk">50</text>
<text x="303.1" y="623.6" text-anchor="middle" class="tk">100</text>
<text x="349.5" y="623.6" text-anchor="middle" class="tk">150</text>
<text x="257.6" y="879.5" text-anchor="middle" class="tk">50</text>
<text x="303.1" y="879.5" text-anchor="middle" class="tk">100</text>
<text x="349.5" y="879.5" text-anchor="middle" class="tk">150</text>
<text x="283.1" y="895.3" text-anchor="middle" class="ax">O<tspan dy="2.7" font-size="10.6">2</tspan><tspan dy="-2.7">-def (&#956;mol/kg)</tspan></text>
<rect x="378.5" y="638.9" width="133.5" height="46.0" fill="#e4e5e5"/>
<clipPath id="c11"><rect x="378.5" y="629.5" width="133.5" height="238.0"/></clipPath>
<g clip-path="url(#c11)">
<path d="M505.2 640.0L483.4 644.7L486.9 654.1L467.8 676.7L419.4 699.1L390.7 721.8L397.7 767.7L397.7 802.0L383.7 824.9" stroke="#0c0c0c" stroke-width="1.05" fill="none"/>
<path d="M499.0 645.1L505.2 634.1L511.4 645.1Z" fill="#0c0c0c"/>
<path d="M477.2 649.8L483.4 638.8L489.6 649.8Z" fill="#0c0c0c"/>
<path d="M480.7 659.2L486.9 648.2L493.1 659.2Z" fill="#0c0c0c"/>
<path d="M461.6 681.8L467.8 670.8L474.0 681.8Z" fill="#0c0c0c"/>
<path d="M413.2 704.2L419.4 693.2L425.6 704.2Z" fill="#0c0c0c"/>
<path d="M384.5 726.9L390.7 715.9L396.9 726.9Z" fill="#0c0c0c"/>
<path d="M391.5 772.8L397.7 761.8L403.9 772.8Z" fill="#0c0c0c"/>
<path d="M391.5 807.1L397.7 796.1L403.9 807.1Z" fill="#0c0c0c"/>
<path d="M377.5 830.0L383.7 819.0L389.9 830.0Z" fill="#0c0c0c"/>
</g>
<path d="M378.5 629.8h5.3M512.0 629.8h-5.3M378.5 652.8h3.3M512.0 652.8h-3.3M378.5 675.6h5.3M512.0 675.6h-5.3M378.5 698.5h3.3M512.0 698.5h-3.3M378.5 721.4h5.3M512.0 721.4h-5.3M378.5 744.2h3.3M512.0 744.2h-3.3M378.5 767.1h5.3M512.0 767.1h-5.3M378.5 790.0h3.3M512.0 790.0h-3.3M378.5 812.8h5.3M512.0 812.8h-5.3M378.5 835.7h3.3M512.0 835.7h-3.3M378.5 858.5h5.3M512.0 858.5h-5.3M380.7 629.5v3.3M380.7 867.5v-3.3M395.3 629.5v3.3M395.3 867.5v-3.3M409.8 629.5v5.3M409.8 867.5v-5.3M424.3 629.5v3.3M424.3 867.5v-3.3M438.9 629.5v3.3M438.9 867.5v-3.3M453.4 629.5v5.3M453.4 867.5v-5.3M467.9 629.5v3.3M467.9 867.5v-3.3M482.4 629.5v3.3M482.4 867.5v-3.3M497.0 629.5v5.3M497.0 867.5v-5.3M511.5 629.5v3.3M511.5 867.5v-3.3" stroke="#111" stroke-width="0.85" fill="none"/>
<rect x="378.5" y="629.5" width="133.5" height="238.0" fill="none" stroke="#000" stroke-width="1.0"/>
<text x="409.8" y="623.6" text-anchor="middle" class="tk">50</text>
<text x="453.3" y="623.6" text-anchor="middle" class="tk">100</text>
<text x="497.0" y="623.6" text-anchor="middle" class="tk">150</text>
<text x="409.8" y="879.5" text-anchor="middle" class="tk">50</text>
<text x="453.3" y="879.5" text-anchor="middle" class="tk">100</text>
<text x="497.0" y="879.5" text-anchor="middle" class="tk">150</text>
<text x="445.2" y="895.3" text-anchor="middle" class="ax">O<tspan dy="2.7" font-size="10.6">2</tspan><tspan dy="-2.7">-def (&#956;mol/kg)</tspan></text>
<rect x="540.5" y="638.9" width="132.5" height="46.0" fill="#e4e5e5"/>
<clipPath id="c12"><rect x="540.5" y="629.5" width="132.5" height="238.0"/></clipPath>
<g clip-path="url(#c12)">
<path d="M625.9 635.8L647.6 641.2L655.8 648.2L631.7 675.1L583.9 697.7L567.7 720.6L571.7 766.5L555.4 812.1L545.9 829.2L545.4 831.6" stroke="#0c0c0c" stroke-width="1.05" fill="none"/>
<path d="M619.7 630.7L625.9 641.7L632.1 630.7Z" fill="#0c0c0c"/>
<path d="M641.4 636.1L647.6 647.1L653.8 636.1Z" fill="#0c0c0c"/>
<path d="M649.6 643.1L655.8 654.1L662.0 643.1Z" fill="#0c0c0c"/>
<path d="M625.5 670.0L631.7 681.0L637.9 670.0Z" fill="#0c0c0c"/>
<path d="M577.7 692.6L583.9 703.6L590.1 692.6Z" fill="#0c0c0c"/>
<path d="M561.5 715.5L567.7 726.5L573.9 715.5Z" fill="#0c0c0c"/>
<path d="M565.5 761.4L571.7 772.4L577.9 761.4Z" fill="#0c0c0c"/>
<path d="M549.2 807.0L555.4 818.0L561.6 807.0Z" fill="#0c0c0c"/>
<path d="M539.7 824.1L545.9 835.1L552.1 824.1Z" fill="#0c0c0c"/>
<path d="M539.2 826.5L545.4 837.5L551.6 826.5Z" fill="#0c0c0c"/>
</g>
<path d="M540.5 629.8h5.3M673.0 629.8h-5.3M540.5 652.8h3.3M673.0 652.8h-3.3M540.5 675.6h5.3M673.0 675.6h-5.3M540.5 698.5h3.3M673.0 698.5h-3.3M540.5 721.4h5.3M673.0 721.4h-5.3M540.5 744.2h3.3M673.0 744.2h-3.3M540.5 767.1h5.3M673.0 767.1h-5.3M540.5 790.0h3.3M673.0 790.0h-3.3M540.5 812.8h5.3M673.0 812.8h-5.3M540.5 835.7h3.3M673.0 835.7h-3.3M540.5 858.5h5.3M673.0 858.5h-5.3M553.4 629.5v3.3M553.4 867.5v-3.3M568.4 629.5v3.3M568.4 867.5v-3.3M583.4 629.5v5.3M583.4 867.5v-5.3M598.4 629.5v3.3M598.4 867.5v-3.3M613.4 629.5v3.3M613.4 867.5v-3.3M628.4 629.5v5.3M628.4 867.5v-5.3M643.4 629.5v3.3M643.4 867.5v-3.3M658.4 629.5v3.3M658.4 867.5v-3.3M673.4 629.5v5.3M673.4 867.5v-5.3" stroke="#111" stroke-width="0.85" fill="none"/>
<rect x="540.5" y="629.5" width="132.5" height="238.0" fill="none" stroke="#000" stroke-width="1.0"/>
<text x="583.4" y="623.6" text-anchor="middle" class="tk">50</text>
<text x="628.9" y="623.6" text-anchor="middle" class="tk">100</text>
<text x="673.3" y="623.6" text-anchor="middle" class="tk">150</text>
<text x="583.4" y="879.5" text-anchor="middle" class="tk">50</text>
<text x="628.9" y="879.5" text-anchor="middle" class="tk">100</text>
<text x="673.3" y="879.5" text-anchor="middle" class="tk">150</text>
<text x="606.8" y="895.3" text-anchor="middle" class="ax">O<tspan dy="2.7" font-size="10.6">2</tspan><tspan dy="-2.7">-def (&#956;mol/kg)</tspan></text>
<path d="M59.9 236.1H72.2" stroke="#000" stroke-width="1.1"/>
<text x="76.9" y="237.8" class="lg">[Cd]<tspan dy="3.8" font-size="6.7">meas</tspan></text>
<path d="M59.9 252.2H72.2" stroke="#2000ff" stroke-width="1.1" stroke-dasharray="3.5 2.3"/>
<text x="78.2" y="255.2" class="lg" style="fill:#2000ff">[Cd]<tspan dy="3.9" font-size="6.7">cal(mix)</tspan></text>
<path d="M58.3 526.4H70.2" stroke="#000" stroke-width="1.1"/>
<text x="72.4" y="530.6" class="lg">&#948;<tspan dy="-3.7" font-size="6.7">114</tspan><tspan dy="3.7">Cd</tspan><tspan dy="3.8" font-size="6.7">meas</tspan></text>
<path d="M58.3 548.6H70.2" stroke="#2000ff" stroke-width="1.1" stroke-dasharray="3.5 2.3"/>
<text x="72.4" y="552.8" class="lg" style="fill:#2000ff">&#948;<tspan dy="-3.7" font-size="6.7">114</tspan><tspan dy="3.7">Cd</tspan><tspan dy="3.8" font-size="6.7">cal(mix)</tspan></text>
<rect x="46.9" y="905.7" width="631.4" height="36.7" rx="3.5" ry="3.5" fill="#fff" stroke="#cdcdcd" stroke-width="1"/>
<path d="M97.6 922.8L107.8 912.6L118.0 922.8L107.8 933.0Z" fill="#fff" stroke="#000" stroke-width="1.35"/>
<text x="130.2" y="927.3" class="bl">Station 21</text>
<rect x="244.7" y="916.0" width="13.5" height="13.5" fill="#fff" stroke="#000" stroke-width="1.35"/>
<text x="274.7" y="927.3" class="bl">Station 30</text>
<path d="M387.4 930.0L395.1 914.9L402.8 930.0Z" fill="#fff" stroke="#000" stroke-width="1.35"/>
<text x="418.4" y="927.3" class="bl">Station 36</text>
<path d="M531.4 915.2L546.6 915.2L539.0 930.3Z" fill="#fff" stroke="#000" stroke-width="1.35"/>
<text x="561.7" y="927.3" class="bl">Station 40</text>
</svg>
</body></html>
